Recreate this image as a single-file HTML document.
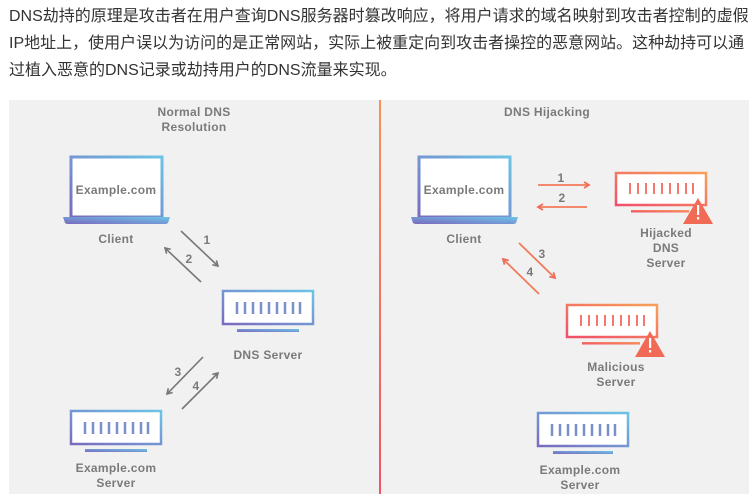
<!DOCTYPE html>
<html><head><meta charset="utf-8">
<style>
html,body{margin:0;padding:0;background:#fff;width:756px;height:504px;overflow:hidden}
.p{position:absolute;left:9px;top:3px;width:760px;font:16px/27px "Liberation Sans","Noto Sans CJK SC",sans-serif;color:#333;margin:0;white-space:nowrap}
svg{position:absolute;left:0;top:0}
text{font-family:"Liberation Sans","DejaVu Sans",sans-serif;font-weight:bold;fill:#7a7a7a;font-size:12px;letter-spacing:0.3px;text-anchor:middle}
</style></head><body>
<p class="p">DNS劫持的原理是攻击者在用户查询DNS服务器时篡改响应，将用户请求的域名映射到攻击者控制的虚假<br>IP地址上，使用户误以为访问的是正常网站，实际上被重定向到攻击者操控的恶意网站。这种劫持可以通<br>过植入恶意的DNS记录或劫持用户的DNS流量来实现。</p>
<svg width="756" height="504" viewBox="0 0 756 504">
<defs>
<linearGradient id="b" x1="0" y1="1" x2="1" y2="0"><stop offset="0" stop-color="#7b6abf"/><stop offset="1" stop-color="#6cc4e6"/></linearGradient>
<linearGradient id="r" x1="0" y1="1" x2="1" y2="0"><stop offset="0" stop-color="#f04f6a"/><stop offset="1" stop-color="#f7a05a"/></linearGradient>
<linearGradient id="v" x1="0" y1="0" x2="0" y2="1"><stop offset="0" stop-color="#f5925a"/><stop offset="1" stop-color="#ee5566"/></linearGradient>
<marker id="ag" markerWidth="8" markerHeight="8" refX="6" refY="4" orient="auto" markerUnits="userSpaceOnUse"><path d="M1,1 L6,4 L1,7" fill="none" stroke="#777" stroke-width="1.6"/></marker>
<marker id="ao" markerWidth="8" markerHeight="8" refX="6" refY="4" orient="auto" markerUnits="userSpaceOnUse"><path d="M1,1 L6,4 L1,7" fill="none" stroke="#f06a5e" stroke-width="1.8"/></marker>
</defs>
<rect x="9" y="100" width="740" height="394" fill="#f1f1f1"/>
<rect x="379" y="100" width="2" height="394" fill="url(#v)"/>

<!-- LEFT -->
<text x="194" y="116">Normal DNS</text>
<text x="194" y="131">Resolution</text>
<rect x="71" y="157" width="91" height="60" fill="#fff" stroke="url(#b)" stroke-width="3"/>
<path d="M63,217 H170 L168,223 Q167,224 165,224 H68 Q66,224 65,223 Z" fill="url(#b)"/>
<text x="116" y="194">Example.com</text>
<text x="116" y="243">Client</text>
<line x1="181" y1="231" x2="218" y2="266" stroke="#777" stroke-width="1.6" marker-end="url(#ag)"/>
<line x1="201" y1="282" x2="165" y2="248" stroke="#777" stroke-width="1.6" marker-end="url(#ag)"/>
<text x="207" y="244">1</text><text x="189" y="263">2</text>

<rect x="223" y="291" width="90" height="33" fill="#fff" stroke="url(#b)" stroke-width="2.5"/>
<path d="M237,302v12M245,302v12M253,302v12M261,302v12M269,302v12M277,302v12M285,302v12M293,302v12M300,302v12" stroke="#7a90c8" stroke-width="2.5"/>
<rect x="237" y="329" width="62" height="3" fill="url(#b)"/>
<text x="268" y="359">DNS Server</text>
<line x1="203" y1="357" x2="167" y2="394" stroke="#777" stroke-width="1.6" marker-end="url(#ag)"/>
<line x1="182" y1="409" x2="218" y2="373" stroke="#777" stroke-width="1.6" marker-end="url(#ag)"/>
<text x="178" y="376">3</text><text x="196" y="390">4</text>

<rect x="71" y="411" width="90" height="33" fill="#fff" stroke="url(#b)" stroke-width="2.5"/>
<path d="M85,422v12M93,422v12M101,422v12M109,422v12M117,422v12M125,422v12M133,422v12M141,422v12M148,422v12" stroke="#7a90c8" stroke-width="2.5"/>
<rect x="85" y="449" width="62" height="3" fill="url(#b)"/>
<text x="116" y="472">Example.com</text>
<text x="116" y="487">Server</text>

<!-- RIGHT -->
<text x="547" y="116">DNS Hijacking</text>
<rect x="419" y="157" width="91" height="60" fill="#fff" stroke="url(#b)" stroke-width="3"/>
<path d="M411,217 H518 L516,223 Q515,224 513,224 H416 Q414,224 413,223 Z" fill="url(#b)"/>
<text x="464" y="194">Example.com</text>
<text x="464" y="243">Client</text>
<line x1="538" y1="185" x2="589" y2="185" stroke="#f27a5a" stroke-width="1.8" marker-end="url(#ao)"/>
<line x1="587" y1="207" x2="538" y2="207" stroke="#f27a5a" stroke-width="1.8" marker-end="url(#ao)"/>
<text x="561" y="182">1</text><text x="562" y="202">2</text>

<rect x="616" y="173" width="90" height="32" fill="#fff" stroke="url(#r)" stroke-width="2.5"/>
<path d="M630,183v11M638,183v11M646,183v11M654,183v11M662,183v11M670,183v11M678,183v11M686,183v11M693,183v11" stroke="#f26a5e" stroke-width="1.8"/>
<rect x="631" y="210" width="58" height="2.5" fill="url(#r)"/>
<path d="M698,198 L713,224 H683 Z" fill="#f06a55"/>
<rect x="697" y="205" width="2.2" height="10" fill="#fff"/><rect x="697" y="217" width="2.2" height="2.5" fill="#fff"/>
<text x="666" y="237">Hijacked</text>
<text x="666" y="252">DNS</text>
<text x="666" y="267">Server</text>

<line x1="519" y1="243" x2="555" y2="278" stroke="#f27a5a" stroke-width="1.8" marker-end="url(#ao)"/>
<line x1="539" y1="294" x2="503" y2="259" stroke="#f27a5a" stroke-width="1.8" marker-end="url(#ao)"/>
<text x="542" y="258">3</text><text x="530" y="276">4</text>

<rect x="567" y="305" width="90" height="32" fill="#fff" stroke="url(#r)" stroke-width="2.5"/>
<path d="M581,315v11M589,315v11M597,315v11M605,315v11M613,315v11M621,315v11M629,315v11M637,315v11M644,315v11" stroke="#f26a5e" stroke-width="1.8"/>
<rect x="582" y="342" width="58" height="2.5" fill="url(#r)"/>
<path d="M650,331 L665,357 H635 Z" fill="#f06a55"/>
<rect x="649" y="338" width="2.2" height="10" fill="#fff"/><rect x="649" y="350" width="2.2" height="2.5" fill="#fff"/>
<text x="616" y="371">Malicious</text>
<text x="616" y="386">Server</text>

<rect x="538" y="413" width="90" height="33" fill="#fff" stroke="url(#b)" stroke-width="2.5"/>
<path d="M552,424v12M560,424v12M568,424v12M576,424v12M584,424v12M592,424v12M600,424v12M608,424v12M615,424v12" stroke="#7a90c8" stroke-width="2.5"/>
<rect x="553" y="451" width="60" height="3" fill="url(#b)"/>
<text x="580" y="474">Example.com</text>
<text x="580" y="489">Server</text>
</svg>
</body></html>
